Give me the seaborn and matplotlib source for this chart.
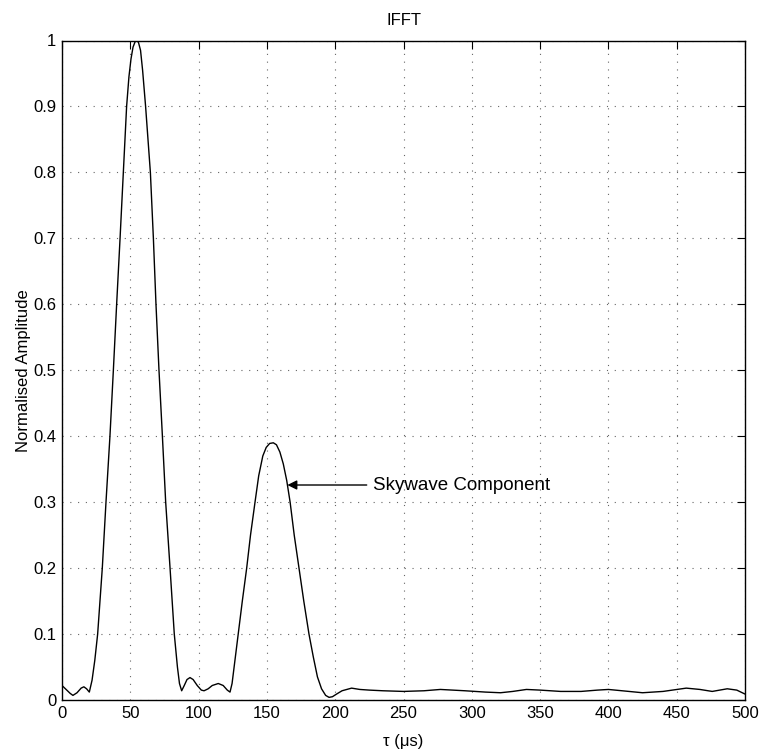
import numpy as np
import pandas as pd
import matplotlib
matplotlib.use("Agg")
import matplotlib.pyplot as plt
from matplotlib.ticker import MultipleLocator, FormatStrFormatter
import seaborn as sns

# Values (tau in microseconds, normalised amplitude)
tau = [0, 3, 6, 8, 11, 14, 16, 18, 20, 22, 24, 26.1, 29.5, 32.2, 35.1, 37.6,
       40, 42.5, 44.9, 47.3, 49, 50.5, 52, 53.5, 54.7, 56, 57.5, 59, 61.2,
       64.7, 66.9, 68.8, 71.0, 73.5, 75.9, 79.1, 82.2, 84.5, 86, 87.6, 89.5,
       91.5, 93.7, 96, 99, 102, 104, 107, 110, 114.4, 118, 121, 123, 124.5,
       126, 129, 132, 135.2, 138, 141.3, 144, 147, 149.5, 152, 154.7, 157,
       159.5, 162, 164.5, 167, 170, 173.5, 177, 180.8, 184, 187, 190, 193,
       195.5, 198, 201, 205, 212, 218, 225, 235, 250, 265, 277, 295, 310,
       321, 330, 340, 350, 365, 380, 392, 400, 410, 425, 440, 457, 467, 476,
       487, 494, 500]
amp = [0.022, 0.016, 0.010, 0.007, 0.011, 0.018, 0.020, 0.017, 0.012, 0.030,
       0.060, 0.10, 0.20, 0.30, 0.40, 0.50, 0.60, 0.70, 0.80, 0.90, 0.945,
       0.972, 0.99, 0.998, 1.0, 0.997, 0.985, 0.955, 0.90, 0.80, 0.70, 0.60,
       0.50, 0.40, 0.30, 0.20, 0.10, 0.050, 0.025, 0.014, 0.022, 0.031,
       0.034, 0.031, 0.022, 0.015, 0.014, 0.017, 0.022, 0.025, 0.022, 0.015,
       0.012, 0.025, 0.050, 0.10, 0.15, 0.20, 0.25, 0.30, 0.34, 0.37, 0.383,
       0.389, 0.39, 0.387, 0.376, 0.358, 0.333, 0.30, 0.25, 0.20, 0.15, 0.10,
       0.065, 0.035, 0.017, 0.007, 0.004, 0.005, 0.009, 0.014, 0.018, 0.016,
       0.015, 0.014, 0.013, 0.014, 0.016, 0.014, 0.012, 0.011, 0.013, 0.016,
       0.015, 0.013, 0.013, 0.015, 0.016, 0.014, 0.011, 0.013, 0.018, 0.016,
       0.013, 0.017, 0.015, 0.009]

df = pd.DataFrame({"tau": tau, "amp": amp})

sns.set_style("white")
plt.rcParams["font.family"] = ["Liberation Sans", "DejaVu Sans"]
plt.rcParams["text.color"] = "black"
plt.rcParams["axes.labelcolor"] = "black"

fig = plt.figure(figsize=(7.62, 7.53), dpi=100)
ax = fig.add_axes([62 / 762, 53 / 753, 683 / 762, 659.5 / 753])

sns.lineplot(data=df, x="tau", y="amp", ax=ax, color="black", linewidth=1.0)

ax.set_xlim(0, 500)
ax.set_ylim(0, 1)
ax.xaxis.set_major_locator(MultipleLocator(50))
ax.yaxis.set_major_locator(MultipleLocator(0.1))
ax.yaxis.set_major_formatter(FormatStrFormatter("%g"))
ax.tick_params(direction="in", length=6, width=0.8, top=True, right=True,
               labelsize=12, colors="black", pad=4)
ax.grid(True, color="0.4", linestyle=(0, (1, 6)), linewidth=0.8)
for s in ax.spines.values():
    s.set_color("black")
    s.set_linewidth(1.0)

ax.set_title("IFFT", fontsize=12, pad=11, color="black")
ax.set_xlabel("\u03c4 (\u03bcs)", fontsize=12, labelpad=10)
ax.set_ylabel("Normalised Amplitude", fontsize=12, labelpad=2)

ax.annotate("Skywave Component", xy=(165, 0.326), xytext=(227.5, 0.326),
            fontsize=13.5, va="center", ha="left", color="black",
            arrowprops=dict(arrowstyle="-|>", color="black", lw=1.0,
                            mutation_scale=14, shrinkA=2, shrinkB=0))

fig.savefig("out.png", dpi=100)
